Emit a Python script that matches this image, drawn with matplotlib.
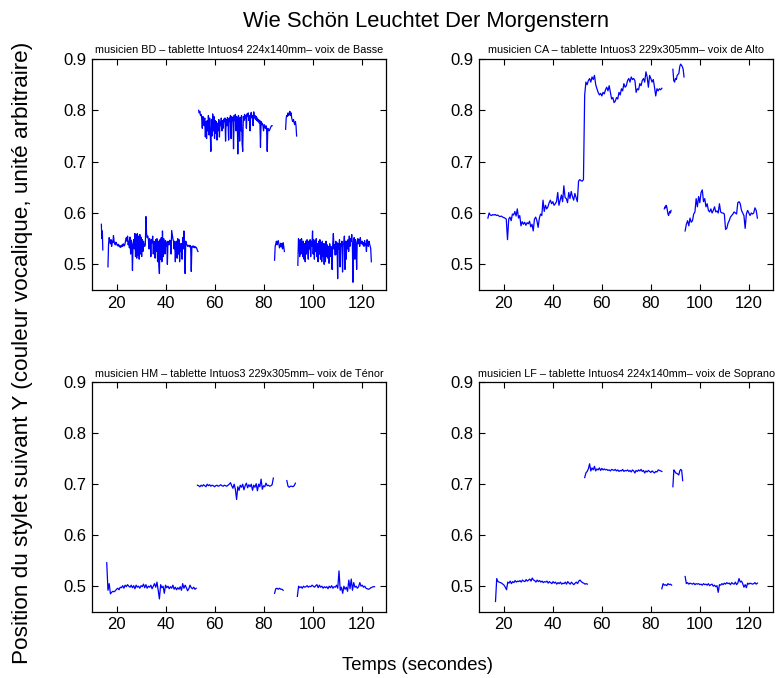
import numpy as np
import matplotlib
matplotlib.use("Agg")
import matplotlib.pyplot as plt

plt.rcParams['font.family'] = ['Liberation Sans', 'DejaVu Sans']

# Title texts
main_title = "Wie Schön Leuchtet Der Morgenstern"
panel_titles = [
    "musicien BD \u2013 tablette Intuos4 224x140mm\u2013 voix de Basse",
    "musicien CA \u2013 tablette Intuos3 229x305mm\u2013 voix de Alto",
    "musicien HM \u2013 tablette Intuos3 229x305mm\u2013 voix de Ténor",
    "musicien LF \u2013 tablette Intuos4 224x140mm\u2013 voix de Soprano",
]
x_label = "Temps (secondes)"
y_label = "Position du stylet suivant Y (couleur vocalique, unité arbitraire)"
x_ticks = [20, 40, 60, 80, 100, 120]
y_ticks = [0.5, 0.6, 0.7, 0.8, 0.9]

# each segment: (start time, sampling step, values)
bd_segments = [
    (13.8, 0.2, [0.578, 0.550, 0.565, 0.528]),
    (16.5, 0.25, [
        0.495, 0.540, 0.552, 0.545, 0.540, 0.548, 0.535, 0.545,
        0.542, 0.556, 0.545, 0.540, 0.538, 0.543, 0.541, 0.537,
        0.536, 0.539, 0.535, 0.537, 0.533, 0.536, 0.534, 0.538,
        0.535, 0.540, 0.537, 0.536, 0.541, 0.548, 0.552, 0.545,
        0.555, 0.538, 0.545, 0.532, 0.553, 0.520, 0.547, 0.537,
        0.488, 0.540, 0.548, 0.530, 0.560, 0.515, 0.558, 0.512,
        0.560, 0.518, 0.555, 0.510, 0.558, 0.520, 0.553, 0.515,
        0.548, 0.525, 0.545, 0.538, 0.535, 0.538, 0.593, 0.560,
        0.552, 0.555, 0.548, 0.530, 0.550, 0.545, 0.515, 0.548,
        0.542, 0.555, 0.520, 0.545, 0.540, 0.512, 0.548, 0.525,
        0.550, 0.505, 0.545, 0.500, 0.482, 0.548, 0.510, 0.552,
        0.505, 0.565, 0.515, 0.550, 0.540, 0.520, 0.546, 0.535,
        0.543, 0.500, 0.545, 0.540, 0.538, 0.547, 0.545, 0.520,
        0.566, 0.558, 0.550, 0.545, 0.530, 0.545, 0.505, 0.540,
        0.545, 0.512, 0.550, 0.520, 0.548, 0.505, 0.540, 0.525,
        0.540, 0.510, 0.552, 0.530, 0.565, 0.540, 0.482, 0.545,
        0.540, 0.538, 0.535, 0.537, 0.536, 0.534, 0.537, 0.533,
        0.486, 0.535, 0.534, 0.536, 0.533, 0.535, 0.532, 0.534,
        0.533, 0.531, 0.527, 0.525]),
    (53.5, 0.25, [
        0.800, 0.795, 0.798, 0.790, 0.792, 0.785, 0.765, 0.788,
        0.780, 0.770, 0.785, 0.748, 0.778, 0.745, 0.780, 0.760,
        0.790, 0.752, 0.785, 0.755, 0.720, 0.782, 0.750, 0.793,
        0.760, 0.788, 0.745, 0.780, 0.755, 0.778, 0.742, 0.775,
        0.760, 0.782, 0.748, 0.778, 0.770, 0.785, 0.760, 0.780,
        0.765, 0.783, 0.778, 0.785, 0.740, 0.782, 0.770, 0.786,
        0.780, 0.742, 0.785, 0.778, 0.790, 0.745, 0.788, 0.780,
        0.786, 0.725, 0.790, 0.780, 0.792, 0.760, 0.788, 0.785,
        0.715, 0.790, 0.782, 0.740, 0.786, 0.760, 0.790, 0.735,
        0.720, 0.788, 0.780, 0.792, 0.785, 0.790, 0.765, 0.793,
        0.788, 0.795, 0.780, 0.790, 0.760, 0.792, 0.796, 0.785,
        0.790, 0.770, 0.797, 0.785, 0.790, 0.782, 0.788, 0.780,
        0.785, 0.778, 0.782, 0.775, 0.780, 0.728, 0.778, 0.772,
        0.775, 0.770, 0.760, 0.772, 0.768, 0.765, 0.770, 0.762,
        0.720, 0.765, 0.762, 0.760, 0.762, 0.765, 0.768, 0.770,
        0.770]),
    (84.5, 0.25, [
        0.508, 0.535, 0.540, 0.545, 0.538, 0.543, 0.546, 0.540,
        0.532, 0.536, 0.541, 0.534, 0.540, 0.530, 0.542, 0.535,
        0.525]),
    (89.0, 0.25, [
        0.763, 0.785, 0.790, 0.788, 0.795, 0.790, 0.793, 0.798,
        0.790, 0.795, 0.785, 0.780, 0.778, 0.782, 0.775, 0.772,
        0.778, 0.770, 0.750]),
    (94.0, 0.25, [
        0.498, 0.550, 0.545, 0.515, 0.548, 0.520, 0.550, 0.540,
        0.515, 0.545, 0.510, 0.540, 0.505, 0.545, 0.520, 0.548,
        0.535, 0.510, 0.545, 0.530, 0.548, 0.515, 0.545, 0.535,
        0.565, 0.520, 0.548, 0.510, 0.545, 0.525, 0.550, 0.515,
        0.540, 0.505, 0.545, 0.520, 0.548, 0.510, 0.542, 0.505,
        0.545, 0.515, 0.540, 0.500, 0.540, 0.505, 0.545, 0.515,
        0.538, 0.512, 0.535, 0.502, 0.540, 0.515, 0.535, 0.520,
        0.490, 0.540, 0.560, 0.530, 0.538, 0.518, 0.545, 0.520,
        0.542, 0.472, 0.540, 0.530, 0.548, 0.495, 0.540, 0.535,
        0.545, 0.485, 0.538, 0.540, 0.555, 0.490, 0.545, 0.510,
        0.545, 0.530, 0.548, 0.525, 0.555, 0.535, 0.550, 0.545,
        0.558, 0.540, 0.465, 0.545, 0.552, 0.510, 0.548, 0.540,
        0.490, 0.545, 0.550, 0.540, 0.548, 0.535, 0.552, 0.542,
        0.540, 0.545, 0.538, 0.542, 0.535, 0.546, 0.538, 0.540,
        0.525, 0.548, 0.538, 0.535, 0.545, 0.540, 0.536, 0.530,
        0.505]),
]

ca_segments = [
    (13.5, 0.5, [
        0.590, 0.600, 0.596, 0.595, 0.597, 0.596, 0.597, 0.595,
        0.596, 0.594, 0.593, 0.594, 0.592, 0.591, 0.590, 0.588,
        0.548, 0.588, 0.592, 0.585, 0.598, 0.596, 0.603, 0.594,
        0.608, 0.590, 0.595, 0.575, 0.583, 0.578, 0.582, 0.576,
        0.581, 0.579, 0.584, 0.573, 0.578, 0.565, 0.588, 0.592,
        0.585, 0.572, 0.590, 0.598, 0.595, 0.625, 0.603, 0.615,
        0.608, 0.612, 0.620, 0.625, 0.618, 0.622, 0.615, 0.618,
        0.622, 0.640, 0.615, 0.625, 0.635, 0.622, 0.653, 0.630,
        0.628, 0.620, 0.640, 0.628, 0.642, 0.632, 0.625, 0.638,
        0.630, 0.622, 0.662, 0.665, 0.663, 0.662, 0.665,
        0.830, 0.855, 0.850, 0.858, 0.862, 0.855, 0.865, 0.860,
        0.868, 0.850, 0.842, 0.835, 0.830, 0.833, 0.828, 0.835,
        0.832, 0.840, 0.845, 0.838, 0.848, 0.835, 0.822, 0.825,
        0.815, 0.818, 0.825, 0.822, 0.835, 0.830, 0.842, 0.838,
        0.852, 0.845, 0.848, 0.858, 0.862, 0.855, 0.865, 0.860,
        0.862, 0.858, 0.835, 0.842, 0.840, 0.852, 0.848, 0.858,
        0.862, 0.855, 0.875, 0.865, 0.845, 0.868, 0.862, 0.855,
        0.860, 0.845, 0.828, 0.842, 0.838, 0.842, 0.840, 0.843]),
    (85.5, 0.25, [
        0.608, 0.612, 0.610, 0.615, 0.612, 0.605, 0.598, 0.595,
        0.600, 0.603, 0.600, 0.605]),
    (89.0, 0.35, [
        0.880, 0.858, 0.855, 0.862, 0.860, 0.868, 0.870, 0.872,
        0.885, 0.890, 0.888, 0.885, 0.880, 0.865]),
    (94.0, 0.5, [
        0.565, 0.578, 0.585, 0.575, 0.590, 0.582, 0.585, 0.598,
        0.602, 0.628, 0.612, 0.632, 0.620, 0.640, 0.645, 0.622,
        0.628, 0.612, 0.618, 0.605, 0.602, 0.608, 0.600, 0.605,
        0.612, 0.602, 0.604, 0.600, 0.618, 0.602, 0.600, 0.600,
        0.598, 0.568, 0.570, 0.580, 0.585, 0.592, 0.595, 0.598,
        0.602, 0.600, 0.598, 0.620, 0.622, 0.618, 0.605, 0.600,
        0.595, 0.570, 0.598, 0.605, 0.600, 0.595, 0.600, 0.598,
        0.600, 0.610, 0.605, 0.590]),
]

hm_segments = [
    (16.0, 0.5, [
        0.546, 0.492, 0.505, 0.485, 0.488, 0.490, 0.489, 0.491,
        0.494, 0.496, 0.493, 0.498, 0.497, 0.501, 0.496, 0.502,
        0.499, 0.503, 0.500, 0.498, 0.502, 0.497, 0.501, 0.495,
        0.502, 0.498, 0.500, 0.496, 0.501, 0.499, 0.504, 0.497,
        0.503, 0.496, 0.500, 0.498, 0.502, 0.495, 0.500, 0.505,
        0.498, 0.508, 0.492, 0.475, 0.503, 0.497, 0.500, 0.486,
        0.502, 0.497, 0.500, 0.495, 0.499, 0.496, 0.502, 0.494,
        0.498, 0.493, 0.497, 0.494, 0.499, 0.492, 0.505, 0.496,
        0.502, 0.497, 0.491, 0.495, 0.502, 0.497, 0.495, 0.498,
        0.494, 0.496]),
    (53.0, 0.5, [
        0.698, 0.697, 0.695, 0.698, 0.696, 0.699, 0.697, 0.695,
        0.700, 0.697, 0.699, 0.696, 0.698, 0.697, 0.695, 0.697,
        0.698, 0.696, 0.697, 0.699, 0.697, 0.696, 0.698, 0.697,
        0.696, 0.698, 0.700, 0.703, 0.697, 0.692, 0.700, 0.690,
        0.670, 0.695, 0.688, 0.698, 0.694, 0.700, 0.689, 0.697,
        0.702, 0.693, 0.699, 0.695, 0.700, 0.688, 0.698, 0.694,
        0.701, 0.687, 0.700, 0.695, 0.710, 0.690, 0.697, 0.695,
        0.702, 0.697, 0.698, 0.696, 0.697, 0.699, 0.712]),
    (84.5, 0.5, [0.486, 0.495, 0.496, 0.494, 0.496, 0.494, 0.494, 0.492]),
    (89.5, 0.5, [0.707, 0.696, 0.694, 0.696, 0.696, 0.695, 0.697, 0.702]),
    (93.8, 0.5, [
        0.480, 0.500, 0.497, 0.499, 0.496, 0.500, 0.498, 0.499,
        0.501, 0.498, 0.500, 0.499, 0.502, 0.500, 0.498, 0.501,
        0.503, 0.497, 0.502, 0.498, 0.500, 0.496, 0.499, 0.497,
        0.499, 0.495, 0.500, 0.497, 0.501, 0.496, 0.499, 0.498,
        0.502, 0.496, 0.530, 0.492, 0.498, 0.486, 0.500, 0.494,
        0.498, 0.490, 0.512, 0.495, 0.514, 0.492, 0.507, 0.498,
        0.500, 0.496, 0.499, 0.507, 0.500, 0.502, 0.498, 0.500,
        0.496, 0.495, 0.494, 0.495, 0.497, 0.498, 0.499, 0.499]),
]

lf_segments = [
    (16.6, 0.5, [
        0.470, 0.515, 0.509, 0.508, 0.507, 0.506, 0.504, 0.502,
        0.498, 0.493, 0.508, 0.506, 0.510, 0.505, 0.509, 0.507,
        0.511, 0.508, 0.510, 0.509, 0.511, 0.508, 0.512, 0.510,
        0.509, 0.513, 0.510, 0.512, 0.514, 0.510, 0.516, 0.512,
        0.511, 0.508, 0.512, 0.509, 0.511, 0.508, 0.510, 0.507,
        0.509, 0.508, 0.510, 0.506, 0.509, 0.507, 0.505, 0.509,
        0.506, 0.508, 0.504, 0.507, 0.505, 0.508, 0.504, 0.506,
        0.505, 0.508, 0.504, 0.509, 0.506, 0.504, 0.508, 0.505,
        0.503, 0.506, 0.508, 0.505, 0.510, 0.512, 0.509, 0.507,
        0.506, 0.504, 0.505, 0.504]),
    (53.0, 0.5, [
        0.713, 0.722, 0.725, 0.730, 0.740, 0.726, 0.732, 0.728,
        0.735, 0.726, 0.730, 0.728, 0.732, 0.727, 0.731, 0.728,
        0.730, 0.728, 0.729, 0.727, 0.728, 0.726, 0.729, 0.728,
        0.727, 0.729, 0.726, 0.728, 0.725, 0.727, 0.726, 0.729,
        0.725, 0.727, 0.726, 0.728, 0.725, 0.727, 0.724, 0.728,
        0.726, 0.722, 0.727, 0.725, 0.728, 0.726, 0.729, 0.725,
        0.727, 0.722, 0.726, 0.724, 0.727, 0.725, 0.723, 0.726,
        0.724, 0.722, 0.725, 0.724, 0.728, 0.727, 0.726, 0.725]),
    (84.5, 0.5, [0.495, 0.505, 0.502, 0.503, 0.501, 0.505, 0.503, 0.504, 0.502]),
    (89.0, 0.4, [
        0.695, 0.728, 0.725, 0.722, 0.721, 0.720, 0.718, 0.726,
        0.729, 0.727, 0.707]),
    (94.0, 0.5, [
        0.519, 0.505, 0.507, 0.504, 0.506, 0.505, 0.504, 0.506,
        0.503, 0.505, 0.504, 0.505, 0.503, 0.504, 0.502, 0.505,
        0.503, 0.504, 0.502, 0.505, 0.501, 0.503, 0.504, 0.500,
        0.502, 0.499, 0.501, 0.488, 0.503, 0.502, 0.505, 0.503,
        0.506, 0.504, 0.507, 0.505, 0.506, 0.503, 0.507, 0.505,
        0.504, 0.508, 0.503, 0.506, 0.515, 0.508, 0.510, 0.505,
        0.498, 0.503, 0.497, 0.506, 0.504, 0.506, 0.505, 0.504,
        0.505, 0.507, 0.504, 0.506]),
]

all_segments = [bd_segments, ca_segments, hm_segments, lf_segments]

# axes rectangles in figure fraction (MATLAB-like subplot layout)
positions = [
    [0.1183, 0.5723, 0.3779, 0.3407],
    [0.6161, 0.5723, 0.3779, 0.3407],
    [0.1183, 0.0978, 0.3779, 0.3385],
    [0.6161, 0.0978, 0.3779, 0.3385],
]

fig = plt.figure(figsize=(7.78, 6.78), dpi=100)

for pos, segs, title in zip(positions, all_segments, panel_titles):
    ax = fig.add_axes(pos)
    for t0, dt, vals in segs:
        t = t0 + dt * np.arange(len(vals))
        ax.plot(t, vals, color='#0000ff', linewidth=0.9)
    ax.set_xlim(10, 130)
    ax.set_ylim(0.45, 0.9)
    ax.set_xticks(x_ticks)
    ax.set_yticks(y_ticks)
    ax.tick_params(direction='in', top=True, right=True, length=4,
                   width=0.8, labelsize=12, pad=4)
    for sp in ax.spines.values():
        sp.set_linewidth(0.9)
    ax.set_title(title, fontsize=7.8, pad=4)

fig.text(0.547, 0.968, main_title, ha='center', va='center', fontsize=15.8)
fig.text(0.537, 0.019, x_label, ha='center', va='center', fontsize=13.3)
fig.text(0.029, 0.48, y_label, ha='center', va='center', fontsize=16.2,
         rotation=90)

fig.savefig('out.png', dpi=100)
